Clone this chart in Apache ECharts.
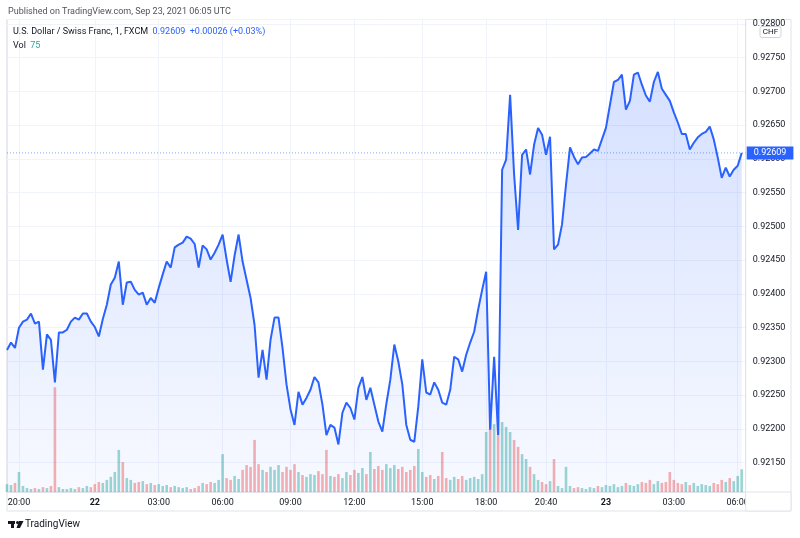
<!DOCTYPE html>
<html>
<head>
<meta charset="utf-8">
<script src="https://cdn.jsdelivr.net/npm/echarts@6/dist/echarts.min.js"></script>
<style>
html, body { margin: 0; padding: 0; background: #fff; }
#chart { width: 800px; height: 538px; }
</style>
</head>
<body>
<div id="chart"></div>
<script>
// USDCHF 1-min, FXCM, sampled off the published snapshot
var tickIdx = [3, 22, 38, 54, 71, 87, 104, 120, 135, 150, 167, 183];
var tickLabels = ['20:00', '22', '03:00', '06:00', '09:00', '12:00', '15:00', '18:00', '20:40', '23', '03:00', '06:00'];

var price = [
  0.92317, 0.92328, 0.92320, 0.92350, 0.92359, 0.92362, 0.92371, 0.92356, 0.92359, 0.92288,
  0.92340, 0.92332, 0.92269, 0.92343, 0.92343, 0.92347, 0.92359, 0.92365, 0.92362, 0.92371,
  0.92371, 0.92359, 0.92351, 0.92337, 0.92363, 0.92384, 0.92414, 0.92424, 0.92448, 0.92384,
  0.92417, 0.92418, 0.92406, 0.92399, 0.92402, 0.92384, 0.92394, 0.92387, 0.92409, 0.92429,
  0.92448, 0.92439, 0.92469, 0.92473, 0.92476, 0.92485, 0.92482, 0.92474, 0.92439, 0.92472,
  0.92466, 0.92451, 0.92461, 0.92473, 0.92488, 0.92451, 0.92418, 0.92457, 0.92488, 0.92448,
  0.92421, 0.92394, 0.92354, 0.92276, 0.92317, 0.92273, 0.92332, 0.92365, 0.92365, 0.92320,
  0.92266, 0.92229, 0.92206, 0.92255, 0.92236, 0.92246, 0.92258, 0.92277, 0.92269, 0.92236,
  0.92191, 0.92206, 0.92202, 0.92177, 0.92224, 0.92239, 0.92231, 0.92214, 0.92261, 0.92277,
  0.92243, 0.92261, 0.92236, 0.92211, 0.92196, 0.92237, 0.92273, 0.92325, 0.92300, 0.92266,
  0.92206, 0.92184, 0.92181, 0.92233, 0.92303, 0.92254, 0.92251, 0.92269, 0.92258, 0.92239,
  0.92236, 0.92258, 0.92307, 0.92303, 0.92285, 0.92310, 0.92328, 0.92344, 0.92377, 0.92406,
  0.92433, 0.92199, 0.92307, 0.92191, 0.92584, 0.92599, 0.92695, 0.92577, 0.92495, 0.92606,
  0.92614, 0.92577, 0.92621, 0.92646, 0.92636, 0.92606, 0.92633, 0.92466, 0.92473, 0.92503,
  0.92562, 0.92617, 0.92603, 0.92592, 0.92602, 0.92603, 0.92608, 0.92614, 0.92612, 0.92629,
  0.92646, 0.92680, 0.92714, 0.92717, 0.92725, 0.92673, 0.92686, 0.92725, 0.92728, 0.92710,
  0.92694, 0.92685, 0.92714, 0.92729, 0.92704, 0.92695, 0.92686, 0.92669, 0.92654, 0.92637,
  0.92637, 0.92614, 0.92624, 0.92632, 0.92637, 0.92640, 0.92648, 0.92629, 0.92602, 0.92572,
  0.92587, 0.92574, 0.92584, 0.92590, 0.92609
];

var volume = [
  26, 23, 30, 66, 20, 13, 10, 13, 10, 16,
  13, 20, 346, 16, 10, 10, 13, 10, 16, 13,
  20, 16, 26, 33, 30, 40, 50, 66, 139, 99,
  46, 40, 30, 33, 36, 26, 30, 23, 26, 20,
  23, 16, 20, 16, 13, 16, 10, 13, 20, 30,
  26, 33, 30, 40, 125, 46, 40, 53, 43, 73,
  89, 83, 172, 92, 73, 66, 83, 73, 89, 66,
  83, 73, 92, 66, 56, 50, 59, 56, 69, 59,
  139, 53, 50, 59, 46, 66, 56, 73, 63, 79,
  59, 132, 76, 86, 73, 92, 79, 89, 76, 83,
  66, 73, 86, 142, 66, 50, 56, 43, 53, 132,
  46, 40, 50, 43, 53, 40, 46, 50, 43, 59,
  198, 271, 224, 248, 231, 215, 198, 172, 149, 125,
  109, 83, 59, 40, 33, 26, 36, 109, 20, 13,
  83, 20, 13, 16, 13, 10, 16, 13, 20, 16,
  23, 20, 26, 16, 20, 30, 23, 20, 26, 33,
  30, 40, 26, 36, 30, 33, 66, 40, 30, 26,
  33, 23, 30, 20, 26, 23, 20, 30, 26, 40,
  33, 46, 36, 53, 75
];

var lastPrice = 0.92609;
var changeText = '+0.00026 (+0.03%)';

var FONT = 'Roboto';
var UP = 'rgba(38,166,154,0.45)';
var DOWN = 'rgba(239,83,80,0.45)';

// one spare slot on the right, like the chart's right offset
var cats = [];
var labelAt = {};
for (var i = 0; i <= price.length; i++) cats.push(String(i));
for (var k = 0; k < tickIdx.length; k++) labelAt[tickIdx[k]] = tickLabels[k];

var showTick = function (index) { return labelAt[index] !== undefined; };

var volData = volume.map(function (v, i) {
  var up = i === 0 || price[i] >= price[i - 1];
  return { value: v, itemStyle: { color: up ? UP : DOWN } };
});

// horizontal last-price line across the whole pane
var lastLine = cats.map(function () { return lastPrice; });

var plain = function (color, size) {
  return { fontSize: size || 9, fontWeight: 'normal', color: color, fontFamily: FONT };
};

var myChart = echarts.init(document.getElementById('chart'));
var option = {
  animation: false,
  backgroundColor: '#fff',
  textStyle: { fontFamily: FONT },
  title: [
    {
      left: 8, top: 7, padding: 0,
      text: 'Published on TradingView.com, Sep 23, 2021 06:05 UTC',
      textStyle: plain('#50535e')
    },
    {
      left: 13, top: 27, padding: 0,
      text: '{a|U.S. Dollar / Swiss Franc, 1, FXCM}  {b|' + lastPrice.toFixed(5) + '  ' + changeText + '}',
      textStyle: Object.assign(plain('#131722'), { rich: { a: plain('#131722'), b: plain('#2962ff') } })
    },
    {
      left: 13, top: 41, padding: 0,
      text: '{a|Vol}  {c|' + volume[volume.length - 1] + '}',
      textStyle: Object.assign(plain('#131722'), { rich: { a: plain('#131722'), c: plain('#26a69a') } })
    },
    {
      left: 25, top: 519, padding: 0,
      text: 'TradingView',
      textStyle: plain('#131722', 10)
    }
  ],
  grid: {
    left: 7, right: 54.3, top: 19.5, bottom: 46,
    show: true, borderColor: '#e0e3eb', borderWidth: 1, backgroundColor: 'transparent'
  },
  xAxis: {
    type: 'category',
    data: cats,
    boundaryGap: false,
    axisLine: { show: true, lineStyle: { color: '#e0e3eb' } },
    axisTick: { show: false },
    axisLabel: {
      interval: showTick,
      margin: 6,
      color: '#131722',
      fontSize: 9,
      fontFamily: FONT,
      formatter: function (v, idx) {
        var s = labelAt[idx];
        if (s === undefined) return '';
        return s.indexOf(':') < 0 ? '{b|' + s + '}' : s;
      },
      rich: { b: { fontWeight: 'bold', fontSize: 9, color: '#131722', fontFamily: FONT } }
    },
    splitLine: { show: true, interval: showTick, lineStyle: { color: '#f0f3fa', width: 1 } }
  },
  yAxis: [
    {
      type: 'value',
      position: 'right',
      min: 0.921066,
      max: 0.928066,
      splitNumber: 14,
      minInterval: 0.0005,
      maxInterval: 0.0005,
      axisLine: { show: true, lineStyle: { color: '#e0e3eb' } },
      axisTick: { show: false },
      axisLabel: {
        showMinLabel: false, showMaxLabel: false,
        margin: 7, color: '#131722', fontSize: 9, fontFamily: FONT,
        formatter: function (v) { return v.toFixed(5); }
      },
      splitLine: { show: true, lineStyle: { color: '#f0f3fa', width: 1 } }
    },
    { type: 'value', min: 0, max: 1560, show: false }
  ],
  series: [
    {
      name: 'Volume',
      type: 'bar',
      yAxisIndex: 1,
      data: volData,
      barWidth: '65%',
      z: 2
    },
    {
      name: 'USDCHF',
      type: 'line',
      data: price,
      symbol: 'none',
      showSymbol: false,
      lineStyle: { color: '#2962ff', width: 2 },
      areaStyle: {
        color: new echarts.graphic.LinearGradient(0, 0, 0, 1, [
          { offset: 0, color: 'rgba(41,98,255,0.28)' },
          { offset: 1, color: 'rgba(41,98,255,0.05)' }
        ])
      },
      z: 3
    },
    {
      name: 'Last',
      type: 'line',
      data: lastLine,
      clip: false,
      symbol: 'none',
      silent: true,
      lineStyle: { color: 'rgba(41,98,255,0.55)', type: [1, 2], width: 1 },
      z: 4,
      endLabel: {
        show: true,
        distance: 1,
        formatter: lastPrice.toFixed(5),
        color: '#fff',
        backgroundColor: '#2962ff',
        padding: [2, 7, 2, 7],
        fontSize: 9,
        fontFamily: FONT
      }
    }
  ],
  graphic: [
    {
      type: 'rect', z: 0, silent: true,
      shape: { x: 7, y: 19.5, width: 784, height: 491.5 },
      style: { fill: 'none', stroke: '#e0e3eb', lineWidth: 1 }
    },
    {
      type: 'rect', z: 100, silent: true,
      shape: { x: 745.7, y: 492, width: 45.3, height: 19 },
      style: { fill: '#fff', stroke: '#e0e3eb', lineWidth: 1 }
    },
    {
      type: 'rect', z: 100, silent: true,
      shape: { x: 760, y: 26.5, width: 21, height: 11, r: 2 },
      style: { fill: '#fff', stroke: '#d1d4dc', lineWidth: 1 }
    },
    {
      type: 'text', z: 101, silent: true,
      x: 770.5, y: 32,
      style: { text: 'CHF', fill: '#131722', font: '8px Roboto', textAlign: 'center', textVerticalAlign: 'middle' }
    },
    // TradingView mark
    { type: 'rect', z: 100, silent: true, shape: { x: 8, y: 521, width: 7, height: 3 }, style: { fill: '#131722' } },
    { type: 'rect', z: 100, silent: true, shape: { x: 11, y: 521, width: 3, height: 7 }, style: { fill: '#131722' } },
    { type: 'circle', z: 100, silent: true, shape: { cx: 17.5, cy: 522.5, r: 1.5 }, style: { fill: '#131722' } },
    { type: 'polygon', z: 100, silent: true, shape: { points: [[19, 521], [23.5, 521], [20, 528], [16.5, 528]] }, style: { fill: '#131722' } }
  ]
};
myChart.setOption(option);
</script>
</body>
</html>
